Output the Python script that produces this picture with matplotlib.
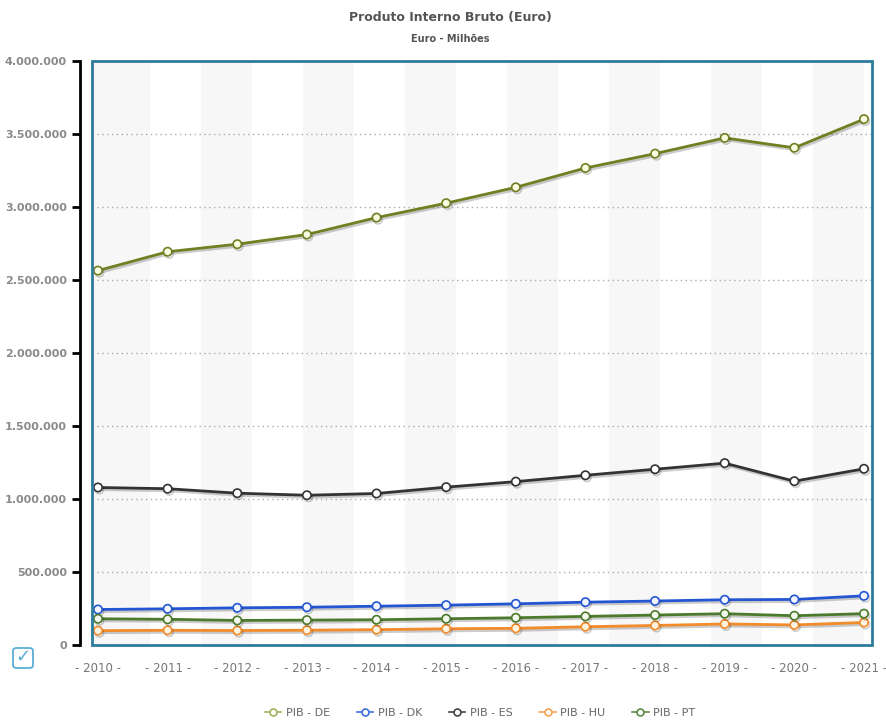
#!/usr/bin/env python3
import matplotlib
matplotlib.use('Agg')
import matplotlib.pyplot as plt
import matplotlib.patheffects as pe
from matplotlib.patches import Rectangle, FancyBboxPatch
from matplotlib.lines import Line2D

# data: PIB (Euro - Milhoes)
years = [2010, 2011, 2012, 2013, 2014, 2015, 2016, 2017, 2018, 2019, 2020, 2021]
pib_de = [2564400, 2693560, 2745310, 2811350, 2927430, 3026180, 3134740, 3267160, 3365450, 3473260, 3405430, 3601750]
pib_dk = [243165, 247880, 254578, 258743, 265757, 273018, 282090, 293276, 301297, 310002, 311928, 336719]
pib_es = [1078972, 1070413, 1039815, 1025693, 1037820, 1081190, 1119010, 1162490, 1203860, 1245510, 1121948, 1206842]
pib_hu = [98198, 100742, 99132, 101273, 105015, 111130, 114188, 124874, 133781, 144047, 137507, 154131]
pib_pt = [179611, 176096, 168296, 170492, 173054, 179713, 186490, 195947, 205184, 214375, 200519, 214741]
labels = ['PIB - DE', 'PIB - DK', 'PIB - ES', 'PIB - HU', 'PIB - PT']
y_ticks = [0, 500000, 1000000, 1500000, 2000000, 2500000, 3000000, 3500000, 4000000]

series = [pib_de, pib_dk, pib_es, pib_hu, pib_pt]
line_colors = ['#6f7f22', '#2456d3', '#333333', '#f28b2a', '#4c7a2c']
face_colors = ['#fafbe0', '#f3f6ff', '#ffffff', '#fff3df', '#f2f8ec']
legend_colors = ['#9db35c', '#3f6fe0', '#444444', '#f5a550', '#5f8a45']

fig = plt.figure(figsize=(8.86, 7.2), dpi=100)
ax = fig.add_axes([92 / 886, 75 / 720, 780 / 886, 584 / 720])

px = 69.6  # pixels per year
ax.set_xlim(2010 - 6 / px, 2021 + 8 / px)
ax.set_ylim(0, 4000000)

# alternating vertical bands
band = '#f7f7f7'
ax.axvspan(2010 - 6 / px, 2010 + 52 / px, color=band, zorder=0, lw=0)
edge = 2010 + 52 / px
step = 51 / px
k = 1
while edge < 2021.2:
    if k % 2 == 0:
        ax.axvspan(edge, min(edge + step, 2021 + 8 / px), color=band, zorder=0, lw=0)
    edge += step
    k += 1

for v in y_ticks[1:-1]:
    ax.axhline(v, color='#aaaaaa', lw=1, ls=(0, (1, 2.5)), zorder=1)

for vals, lc, fc, lab in zip(series, line_colors, face_colors, labels):
    ax.plot(years, vals, color=lc, lw=2, marker='o', ms=6, mfc=fc, mec=lc, mew=1.2,
            zorder=3, label=lab,
            path_effects=[pe.SimpleLineShadow(offset=(1, -1.5), alpha=0.2), pe.Normal()])

# plot box border and axis
for s in ['top', 'right', 'bottom']:
    ax.spines[s].set_visible(False)
ax.add_patch(Rectangle((0, 0), 1, 1, transform=ax.transAxes, fill=False,
                       ec='#2e7c9c', lw=2, clip_on=False, zorder=5))
ax.spines['left'].set_position(('outward', 9))
ax.spines['left'].set_color('black')
ax.spines['left'].set_linewidth(2)

ax.set_yticks(y_ticks)
ax.set_yticklabels([f'{v:,.0f}'.replace(',', '.') for v in y_ticks],
                   fontsize=8, fontweight='bold', color='#8a8a8a')
ax.tick_params(axis='y', length=6, width=2, color='black', pad=3)
ax.set_xticks(years)
ax.set_xticklabels([f'- {y} -' for y in years], fontsize=8.5, color='#777777')
ax.tick_params(axis='x', length=0, pad=12)

fig.text(450 / 886, 1 - 17 / 720, 'Produto Interno Bruto (Euro)', ha='center', va='center',
         fontsize=9, fontweight='bold', color='#555555')
fig.text(450 / 886, 1 - 39 / 720, 'Euro - Milhões', ha='center', va='center',
         fontsize=7, fontweight='bold', color='#555555')

# checkbox icon
fig.patches.append(FancyBboxPatch((13 / 886, 1 - 668 / 720), 20 / 886, 20 / 720,
                                  boxstyle='round,pad=0,rounding_size=0.004',
                                  transform=fig.transFigure, fill=False,
                                  ec='#5aaed6', lw=1.3))
fig.text(23 / 886, 1 - 657 / 720, '✓', ha='center', va='center', fontsize=13,
         color='#5aaed6')

handles = [Line2D([], [], color=c, lw=1.2, marker='o', ms=5, mfc='white', mec=c, mew=1.2)
           for c in legend_colors]
fig.legend(handles, labels, loc='center', bbox_to_anchor=(480 / 886, 1 - 713 / 720), ncol=5,
           frameon=False, fontsize=8, handlelength=1.5, handletextpad=0.4,
           columnspacing=2.4, labelcolor='#666666')

fig.savefig('out.png', dpi=100)
